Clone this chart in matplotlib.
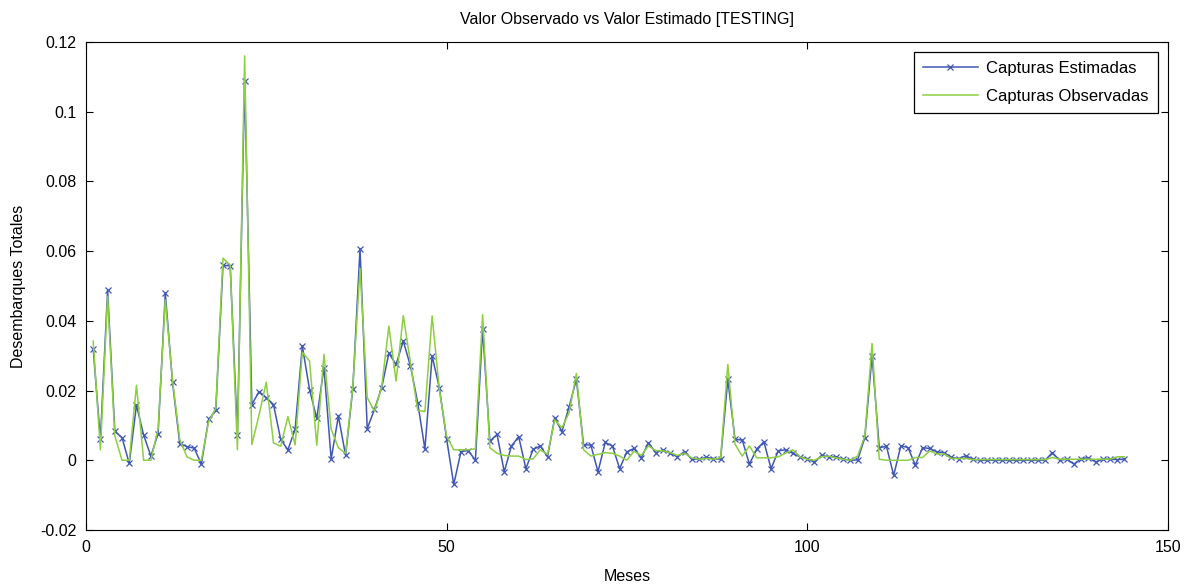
import numpy as np
import matplotlib
matplotlib.use('Agg')
import matplotlib.pyplot as plt

meses = np.arange(1, 145)

estimadas = [
    0.032, 0.006, 0.0488, 0.0083, 0.0065, -0.0009, 0.0158, 0.0072, 0.0012, 0.0076,
    0.048, 0.0224, 0.0048, 0.0039, 0.0035, -0.0011, 0.0117, 0.0143, 0.0559, 0.0558,
    0.0072, 0.1089, 0.016, 0.0197, 0.018, 0.016, 0.006, 0.003, 0.0089, 0.0328,
    0.0203, 0.012, 0.0266, 0.0003, 0.0127, 0.0014, 0.0205, 0.0607, 0.0091, 0.0146,
    0.0208, 0.0307, 0.0275, 0.0342, 0.027, 0.0165, 0.0032, 0.0299, 0.0208, 0.0062,
    -0.0069, 0.0025, 0.0028, 0.0, 0.0377, 0.0055, 0.0074, -0.0033, 0.0041, 0.0068,
    -0.0024, 0.0031, 0.0041, 0.001, 0.0122, 0.0082, 0.0154, 0.0232, 0.0044, 0.0044,
    -0.0033, 0.0051, 0.0041, -0.0024, 0.0024, 0.0034, 0.0007, 0.005, 0.0022, 0.003,
    0.002, 0.001, 0.0025, 0.0003, 0.0003, 0.0008, 0.0005, 0.0003, 0.0232, 0.006,
    0.0058, -0.0011, 0.0032, 0.0053, -0.0024, 0.0027, 0.003, 0.002, 0.001, 0.0005,
    -0.0006, 0.0014, 0.001, 0.001, 0.0003, 0.0, 0.0001, 0.0065, 0.030, 0.0036,
    0.004, -0.0043, 0.0042, 0.0036, -0.0014, 0.0036, 0.0034, 0.0024, 0.0022, 0.0008,
    0.0005, 0.0013, 0.0003, 0.0, 0.0, 0.0, 0.0, 0.0, 0.0, 0.0,
    0.0, 0.0, 0.0, 0.0022, 0.0, 0.0003, -0.0011, 0.0005, 0.0007, -0.0005,
    0.0003, 0.0003, 0.0002, 0.0003,
]

observadas = [
    0.0342, 0.003, 0.047, 0.007, 0.0, 0.0, 0.0215, 0.0, 0.0, 0.009,
    0.046, 0.023, 0.006, 0.001, 0.0, 0.0, 0.011, 0.015, 0.058, 0.056,
    0.003, 0.116, 0.0045, 0.013, 0.0224, 0.005, 0.004, 0.0125, 0.0044, 0.031,
    0.0285, 0.0043, 0.0304, 0.0089, 0.0036, 0.002, 0.021, 0.055, 0.018, 0.014,
    0.021, 0.0385, 0.0227, 0.0415, 0.028, 0.0143, 0.014, 0.0414, 0.0203, 0.007,
    0.003, 0.003, 0.003, 0.0033, 0.0418, 0.0036, 0.002, 0.0014, 0.0012, 0.0012,
    0.0002, 0.0004, 0.003, 0.0017, 0.0116, 0.0093, 0.0137, 0.0249, 0.003, 0.0012,
    0.0017, 0.0022, 0.002, 0.0012, 0.0, 0.0026, 0.0014, 0.0041, 0.0028, 0.0027,
    0.0022, 0.0014, 0.002, 0.0007, 0.0003, 0.0005, 0.0003, 0.0007, 0.0275, 0.0046,
    0.0012, 0.0041, 0.0007, 0.0007, 0.0007, 0.001, 0.002, 0.003, 0.001, 0.0003,
    0.0, 0.001, 0.0012, 0.0007, 0.0003, 0.0, 0.0012, 0.007, 0.0335, 0.0003,
    0.0, 0.0, 0.0, 0.0, 0.0008, 0.0008, 0.0027, 0.0018, 0.0018, 0.0005,
    0.0005, 0.0005, 0.0002, 0.0002, 0.0002, 0.0002, 0.0002, 0.0002, 0.0002, 0.0002,
    0.0002, 0.0002, 0.0002, 0.0008, 0.0003, 0.0003, 0.0003, 0.0003, 0.0003, 0.0003,
    0.0003, 0.0003, 0.001, 0.001,
]

plt.rcParams['font.family'] = ['Liberation Sans', 'DejaVu Sans']

fig = plt.figure(figsize=(11.94, 5.86), dpi=100)
ax = fig.add_axes([0.072, 0.0956, 0.906, 0.8327])

ax.plot(meses, estimadas, color='#4157b4', marker='x', markersize=5,
        markeredgewidth=0.9, linewidth=1.1, label='Capturas Estimadas')
ax.plot(meses, observadas, color='#8ccf40', linewidth=1.1, label='Capturas Observadas')

ax.set_xlim(0, 150)
ax.set_ylim(-0.02, 0.12)
ax.set_xticks([0, 50, 100, 150])
ax.set_yticks(np.arange(-0.02, 0.1201, 0.02))
ax.set_yticklabels(['-0.02', '0', '0.02', '0.04', '0.06', '0.08', '0.1', '0.12'])
ax.tick_params(direction='in', length=5, width=0.8, labelsize=11.5,
               top=True, right=True, pad=7)
for s in ax.spines.values():
    s.set_linewidth(0.8)

ax.set_title('Valor Observado vs Valor Estimado [TESTING]', fontsize=11.5, pad=13)
ax.set_xlabel('Meses', fontsize=11.5, labelpad=10)
ax.set_ylabel('Desembarques Totales', fontsize=11.5, labelpad=10)

leg = ax.legend(loc='upper right', fontsize=12, fancybox=False, framealpha=1,
                edgecolor='black', borderaxespad=0.6, handlelength=3.3,
                handletextpad=0.5, labelspacing=0.75, borderpad=0.55)
leg.get_frame().set_linewidth(0.9)

plt.savefig('out.png', dpi=100)
